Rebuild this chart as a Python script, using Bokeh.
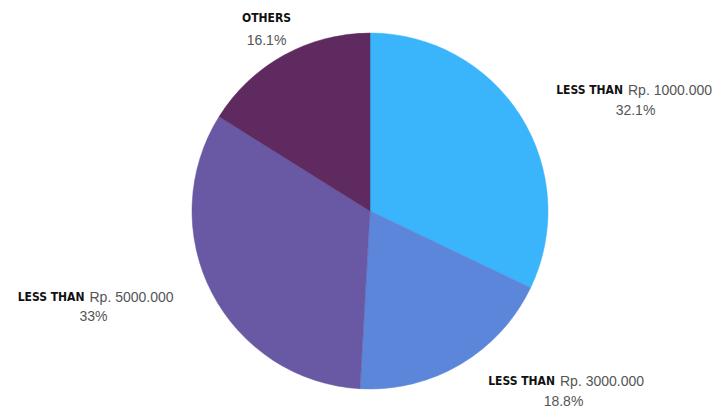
import numpy as np
from bokeh.plotting import figure
from bokeh.models import Range1d, ColumnDataSource
from bokeh.core.properties import value
from bokeh.embed import file_html
from bokeh.resources import INLINE

categories = ["Rp. 1000.000", "Rp. 3000.000", "Rp. 5000.000", "OTHERS"]
prefixes = ["LESS THAN", "LESS THAN", "LESS THAN", ""]
percent_labels = ["32.1%", "18.8%", "33%", "16.1%"]
shares = [32.1, 18.8, 33.0, 16.1]
colors = ["#3AB4FB", "#5B86D9", "#6958A3", "#5E2A60"]

W, H = 721, 407
p = figure(width=W, height=H, output_backend="svg", toolbar_location=None,
           x_range=Range1d(0, W), y_range=Range1d(0, H), min_border=0)
p.axis.visible = False
p.grid.visible = False
p.outline_line_color = None
p.background_fill_color = "white"

cx, cy, r = 369.5, 196.5, 178
vals = np.array(shares)
cum = np.concatenate([[0], np.cumsum(vals)]) / vals.sum() * 2 * np.pi
src = ColumnDataSource(dict(start=np.pi / 2 - cum[:-1], end=np.pi / 2 - cum[1:], color=colors))
p.wedge(x=cx, y=cy, radius=r, start_angle="start", end_angle="end", direction="clock",
        fill_color="color", line_color="color", line_width=0.5, source=src)

# label anchor positions (pixel offsets), in plot coords
split_x = [624.5, 556.5, 86, None]
row_y = [318, 27, 111, 390]
pct_x = [635, 563, 93, 266]
pct_y = [298, 7, 92, 368]

for i in range(4):
    if prefixes[i]:
        p.text(x=[split_x[i] - 2], y=[row_y[i]], text=[prefixes[i]], text_align="right",
               text_baseline="middle", text_font=value("DejaVu Sans Condensed"),
               text_font_style="bold", text_font_size="12px", text_color="#111111")
        p.text(x=[split_x[i] + 3], y=[row_y[i]], text=[categories[i]], text_align="left",
               text_baseline="middle", text_font=value("Liberation Sans"),
               text_font_size="14px", text_color="#555555")
    else:
        p.text(x=[pct_x[i]], y=[row_y[i]], text=[categories[i]], text_align="center",
               text_baseline="middle", text_font=value("DejaVu Sans Condensed"),
               text_font_style="bold", text_font_size="12px", text_color="#111111")
    p.text(x=[pct_x[i]], y=[pct_y[i]], text=[percent_labels[i]], text_align="center",
           text_baseline="middle", text_font=value("Liberation Sans"),
           text_font_size="14px", text_color="#555555")

open("out.html", "w").write(file_html(p, INLINE))
